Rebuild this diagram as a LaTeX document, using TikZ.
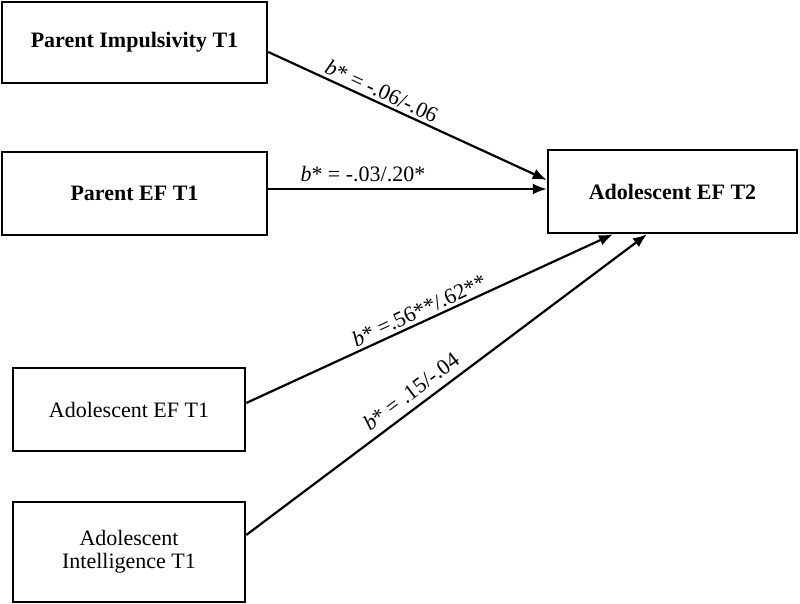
\documentclass[tikz,border=0pt]{standalone}
\usepackage{fontspec}
\setmainfont{Liberation Serif}
\usetikzlibrary{arrows.meta,calc}
\begin{document}
\begin{tikzpicture}[x=1pt,y=-1pt,
  box/.style={draw=black,line width=2.5pt,fill=white,inner sep=0pt,font=\fontsize{22}{24}\selectfont,align=center},
  conn/.style={line width=2.2pt,-{Latex[length=14pt,width=11pt]}},
  lab/.style={font=\fontsize{22}{24}\selectfont,inner sep=1pt}]
\useasboundingbox (0,0) rectangle (800,604);
\node[box,minimum width=265pt,minimum height=81pt] (pi) at (134.5,42.5) {\textbf{Parent Impulsivity T1}};
\node[box,minimum width=265pt,minimum height=83pt] (pe) at (134.5,193.5) {\textbf{Parent EF T1}};
\node[box,minimum width=249pt,minimum height=83pt] (ae2) at (672.5,191.5) {\textbf{Adolescent EF T2}};
\node[box,minimum width=232pt,minimum height=83pt] (ae1) at (129,409.5) {Adolescent EF T1};
\node[box,minimum width=232pt,minimum height=100pt] (ai) at (129,552) {Adolescent\\[-1pt]Intelligence T1};
\draw[conn] ($(pi.east)+(0,9.5)$) -- node[lab,pos=0.39,sloped,above=2pt] {\textit{b}* = -.06/-.06} ($(ae2.west)+(0,-11.5)$);
\draw[conn] ($(pe.east)+(0,-4.5)$) -- node[lab,pos=0.34,above=5pt] {\textit{b}* = -.03/.20*} ($(ae2.west)+(0,-2.5)$);
\draw[conn] ($(ae1.east)+(0,-6.5)$) -- node[lab,pos=0.485,sloped,above=2pt] {\textit{b}* =.56**/.62**} ($(ae2.south)+(-59.5,0)$);
\draw[conn] ($(ai.east)+(0,-17)$) -- node[lab,pos=0.435,sloped,above=6pt] {\textit{b}* = .15/-.04} ($(ae2.south)+(-25.5,0)$);
\end{tikzpicture}
\end{document}
